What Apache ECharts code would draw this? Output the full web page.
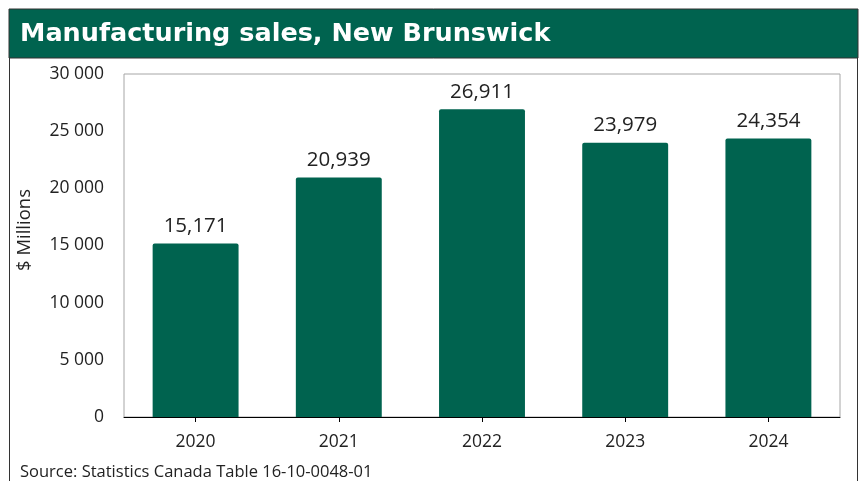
<!DOCTYPE html>
<html>
<head>
<meta charset="utf-8">
<script src="https://cdn.jsdelivr.net/npm/echarts@6/dist/echarts.min.js"></script>
<style>
html,body{margin:0;padding:0;background:#fff;}
#c{width:864px;height:481px;}
</style>
</head>
<body>
<div id="c"></div>
<script>
const categories = ['2020', '2021', '2022', '2023', '2024'];
const sales = [15171, 20939, 26911, 23979, 24354];
const yTicks = [0, 5000, 10000, 15000, 20000, 25000, 30000];
const titleText = 'Manufacturing sales, New Brunswick';
const yAxisName = '$ Millions';
const sourceText = 'Source: Statistics Canada Table 16-10-0048-01';

const green = '#00634F';
const chart = echarts.init(document.getElementById('c'), null, {renderer: 'canvas'});
chart.setOption({
  animation: false,
  textStyle: {fontFamily: 'Open Sans'},
  grid: {left: 124, right: 24, top: 74, bottom: 64, show: true, borderColor: '#a6a6a6', borderWidth: 1},
  xAxis: {
    type: 'category',
    data: categories,
    axisLine: {lineStyle: {color: '#000', width: 1}},
    axisTick: {show: true, alignWithLabel: true, length: 5, lineStyle: {color: '#000'}},
    axisLabel: {color: '#222', fontSize: 17.5, margin: 16, fontFamily: 'Open Sans'}
  },
  yAxis: {
    type: 'value',
    min: yTicks[0], max: yTicks[yTicks.length - 1], interval: 5000,
    axisLine: {show: false},
    axisTick: {show: false},
    splitLine: {show: false},
    axisLabel: {
      color: '#222', fontSize: 17.5, margin: 20, fontFamily: 'Open Sans',
      formatter: v => String(v).replace(/\B(?=(\d{3})+(?!\d))/g, ' ')
    }
  },
  series: [{
    type: 'bar',
    data: sales,
    barWidth: '60%',
    itemStyle: {color: green, borderRadius: [2, 2, 0, 0]},
    label: {
      show: true, position: 'top', distance: 7, color: '#222', fontSize: 20.5, fontFamily: 'Open Sans',
      formatter: p => p.value.toLocaleString('en-US')
    }
  }],
  graphic: [
    {type: 'rect', shape: {x: 9.5, y: 9.5, width: 848, height: 480}, style: {fill: 'none', stroke: '#333', lineWidth: 1}, z: 10},
    {type: 'rect', shape: {x: 9, y: 9, width: 849, height: 49}, style: {fill: green, stroke: '#333', lineWidth: 1}, z: 11},
    {type: 'text', x: 20, y: 34, z: 12, style: {text: titleText, fill: '#fff', font: 'bold 25.5px "DejaVu Sans"', verticalAlign: 'middle'}},
    {type: 'text', x: 25, y: 230, rotation: Math.PI / 2, z: 12,
      style: {text: yAxisName, fill: '#222', font: '18.5px "Open Sans"', align: 'center', verticalAlign: 'middle'}},
    {type: 'text', x: 20, y: 472, z: 12, style: {text: sourceText, fill: '#222', font: '16.5px "Open Sans"', verticalAlign: 'middle'}}
  ]
});
</script>
</body>
</html>
